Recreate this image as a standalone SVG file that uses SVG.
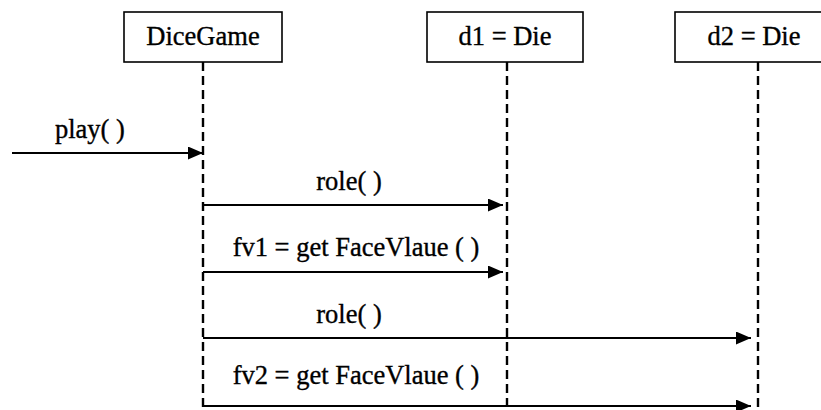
<svg xmlns="http://www.w3.org/2000/svg" width="821" height="410" viewBox="0 0 821 410">
<defs>
<style>
.box{fill:#fff;stroke:#000;stroke-width:1.6}
.life{stroke:#000;stroke-width:2.4;stroke-dasharray:9 5;fill:none}
.msg{stroke:#000;stroke-width:2.2;fill:none}
.t{font-family:'Liberation Serif','Times New Roman',serif;font-size:26.5px;fill:#000;stroke:#000;stroke-width:0.35}
.c{text-anchor:middle}
</style>
<marker id="ah" viewBox="0 0 15 13" refX="15" refY="6.5" markerWidth="15" markerHeight="13" markerUnits="userSpaceOnUse" orient="auto">
<path d="M0,0 L15,6.5 L0,13 Z" fill="#000"/>
</marker>
</defs>
<rect width="821" height="410" fill="#fff"/>
<g id="dicegame">
<rect class="box" x="124" y="12" width="158" height="50"/>
<text class="t c" x="203" y="45">DiceGame</text>
</g>
<g id="d1">
<rect class="box" x="427" y="12" width="156" height="50"/>
<text class="t c" x="505" y="45">d1 = Die</text>
</g>
<g id="d2">
<rect class="box" x="675" y="12" width="150" height="50"/>
<text class="t c" x="754" y="45">d2 = Die</text>
</g>
<g id="connectors">
<line class="life" x1="203" y1="62" x2="203" y2="410"/>
<line class="life" x1="507" y1="62" x2="507" y2="410"/>
<line class="life" x1="758" y1="62" x2="758" y2="410"/>
<line class="msg" x1="12" y1="153" x2="203" y2="153" marker-end="url(#ah)"/>
<line class="msg" x1="203" y1="205" x2="503" y2="205" marker-end="url(#ah)"/>
<line class="msg" x1="203" y1="272" x2="503" y2="272" marker-end="url(#ah)"/>
<line class="msg" x1="203" y1="338" x2="751" y2="338" marker-end="url(#ah)"/>
<line class="msg" x1="203" y1="406" x2="751" y2="406" marker-end="url(#ah)"/>
<text class="t" x="55" y="138">play( )</text>
<text class="t c" x="349" y="190">role( )</text>
<text class="t c" x="356" y="256">fv1 = get FaceVlaue ( )</text>
<text class="t c" x="349" y="323">role( )</text>
<text class="t c" x="356" y="384">fv2 = get FaceVlaue ( )</text>
</g>
</svg>
